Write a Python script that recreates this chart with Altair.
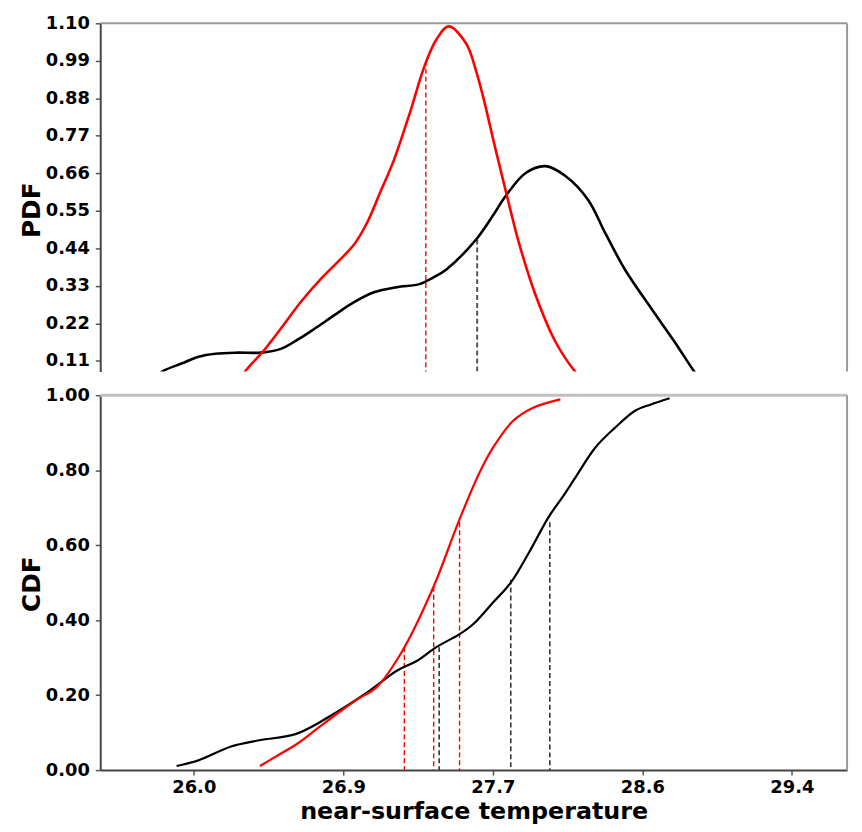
import altair as alt
import pandas as pd

# ---------------- data ----------------
# PDF, black curve
pdf_black_x = [25.716, 25.818, 25.930, 26.026, 26.122, 26.252, 26.381, 26.494, 26.590, 26.686,
               26.799, 26.911, 27.024, 27.154, 27.284, 27.363, 27.436, 27.605, 27.699, 27.774,
               27.887, 28.000, 28.113, 28.242, 28.338, 28.451, 28.603, 28.733, 28.846, 28.930]
pdf_black_y = [0.035, 0.078, 0.102, 0.122, 0.131, 0.134, 0.134, 0.145, 0.172, 0.204,
               0.244, 0.282, 0.311, 0.326, 0.335, 0.355, 0.378, 0.466, 0.535, 0.594,
               0.661, 0.681, 0.652, 0.582, 0.486, 0.378, 0.262, 0.166, 0.078, 0.020]
# PDF, red curve
pdf_red_x = [26.252, 26.291, 26.393, 26.494, 26.607, 26.720, 26.816, 26.911, 26.985, 27.058,
             27.137, 27.227, 27.312, 27.380, 27.447, 27.549, 27.605, 27.645, 27.718, 27.786,
             27.848, 27.943, 28.056, 28.169, 28.254]
pdf_red_y = [0.035, 0.078, 0.137, 0.204, 0.282, 0.349, 0.399, 0.451, 0.515, 0.602,
             0.698, 0.835, 0.975, 1.053, 1.091, 1.040, 0.960, 0.884, 0.725, 0.582,
             0.457, 0.303, 0.166, 0.078, 0.035]
# PDF dashed markers (red mean, black mean)
pdf_red_mark_x = [27.319]
pdf_red_mark_y = [0.99]
pdf_black_mark_x = [27.611]
pdf_black_mark_y = [0.466]

# CDF, red curve
cdf_red_x = [26.376, 26.477, 26.590, 26.703, 26.816, 26.928, 27.041, 27.182, 27.363, 27.504,
             27.622, 27.701, 27.814, 27.926, 28.084]
cdf_red_y = [0.011, 0.039, 0.071, 0.111, 0.151, 0.188, 0.222, 0.315, 0.489, 0.661,
             0.791, 0.860, 0.931, 0.966, 0.989]
# CDF, black curve
cdf_black_x = [25.902, 26.026, 26.212, 26.365, 26.590, 26.816, 27.000, 27.154, 27.267, 27.379,
               27.509, 27.588, 27.701, 27.802, 27.904, 28.017, 28.096, 28.169, 28.282, 28.394,
               28.507, 28.603, 28.705]
cdf_black_y = [0.011, 0.026, 0.063, 0.079, 0.098, 0.156, 0.212, 0.265, 0.291, 0.328,
               0.362, 0.389, 0.447, 0.500, 0.579, 0.675, 0.728, 0.780, 0.860, 0.913,
               0.958, 0.976, 0.992]
# CDF dashed markers (lower tercile, median, upper tercile)
cdf_red_mark_x = [27.197, 27.364, 27.511]
cdf_red_mark_y = [0.328, 0.489, 0.661]
cdf_black_mark_x = [27.395, 27.802, 28.024]
cdf_black_mark_y = [0.328, 0.508, 0.661]

x_ticks = [26.0, 26.85, 27.7, 28.55, 29.4]
pdf_ticks = [0.11, 0.22, 0.33, 0.44, 0.55, 0.66, 0.77, 0.88, 0.99, 1.10]
cdf_ticks = [0.0, 0.2, 0.4, 0.6, 0.8, 1.0]

X_DOMAIN = [25.468, 29.714]
PDF_DOMAIN = [0.079, 1.10]
W = 753
H_TOP = 351
H_BOT = 378

FONT = "DejaVu Sans"

x_scale = alt.Scale(domain=X_DOMAIN, nice=False, zero=False)
pdf_scale = alt.Scale(domain=PDF_DOMAIN, nice=False, zero=False)
cdf_scale = alt.Scale(domain=[0, 1], nice=False)

axis_common = dict(grid=False, labelFont=FONT, labelFontWeight="bold", labelFontSize=18,
                   labelColor="#000", labelOverlap=False, titleFont=FONT, titleFontWeight="bold",
                   titleColor="#000", tickColor="#555", tickSize=5, tickWidth=1.5,
                   domainColor="#444", domainWidth=2)

pdf_y_axis = alt.Axis(values=pdf_ticks, format=".2f", title="PDF", titleFontSize=25,
                      titleX=-56, titleY=188, labelPadding=6, **axis_common)
cdf_y_axis = alt.Axis(values=cdf_ticks, format=".2f", title="CDF", titleFontSize=25,
                      titleX=-56, titleY=190, labelPadding=6, **axis_common)
x_axis = alt.Axis(values=x_ticks, format=".1f", title="near-surface temperature",
                  titleFontSize=24, labelPadding=4, titlePadding=3, **axis_common)


def xenc(xaxis):
    if xaxis is None:
        return alt.X("x:Q", scale=x_scale, axis=None)
    return alt.X("x:Q", scale=x_scale, axis=xaxis)


def line(xs, ys, color, width, xaxis, yscale, yaxis, clip):
    df = pd.DataFrame({"x": xs, "y": ys})
    return alt.Chart(df).mark_line(clip=clip, color=color, strokeWidth=width,
                                   interpolate="catmull-rom").encode(
        x=xenc(xaxis),
        y=alt.Y("y:Q", scale=yscale, axis=yaxis),
    )


def rules(xs, ys, color, width, xaxis, yscale, yaxis, h):
    df = pd.DataFrame({"x": xs, "y": ys})
    return alt.Chart(df).mark_rule(color=color, strokeWidth=width, strokeDash=[5, 3]).encode(
        x=xenc(xaxis),
        y=alt.Y("y:Q", scale=yscale, axis=yaxis),
        y2=alt.value(h),
    )


anchor = pd.DataFrame({"a": [0]})


def hborder(x2, color, width):
    return alt.Chart(anchor).mark_rule(color=color, strokeWidth=width).encode(
        x=alt.value(0), x2=alt.value(x2), y=alt.value(0))


def vborder(x, y2, color, width):
    return alt.Chart(anchor).mark_rule(color=color, strokeWidth=width).encode(
        x=alt.value(x), y=alt.value(0), y2=alt.value(y2))


# ---------------- top panel: PDF ----------------
top = alt.layer(
    rules(pdf_red_mark_x, pdf_red_mark_y, "#ff0000", 1.4, None, pdf_scale, pdf_y_axis, H_TOP),
    rules(pdf_black_mark_x, pdf_black_mark_y, "#555555", 2.0, None, pdf_scale, pdf_y_axis, H_TOP),
    line(pdf_black_x, pdf_black_y, "#000000", 2.6, None, pdf_scale, pdf_y_axis, True),
    line(pdf_red_x, pdf_red_y, "#ff0000", 2.6, None, pdf_scale, pdf_y_axis, True),
    hborder(W, "#999", 2),
    vborder(W, H_TOP, "#999", 2),
).properties(width=W, height=H_TOP)

# ---------------- bottom panel: CDF ----------------
bottom = alt.layer(
    rules(cdf_red_mark_x, cdf_red_mark_y, "#ff0000", 1.4, x_axis, cdf_scale, cdf_y_axis, H_BOT),
    rules(cdf_black_mark_x, cdf_black_mark_y, "#333333", 1.6, x_axis, cdf_scale, cdf_y_axis, H_BOT),
    line(cdf_black_x, cdf_black_y, "#000000", 2.2, x_axis, cdf_scale, cdf_y_axis, False),
    line(cdf_red_x, cdf_red_y, "#ff0000", 2.2, x_axis, cdf_scale, cdf_y_axis, False),
    hborder(W, "#c0c0c0", 3),
    vborder(W, H_BOT, "#999", 2),
).properties(width=W, height=H_BOT)

chart = alt.vconcat(top, bottom, spacing=24, bounds="flush").properties(
    padding={"left": 11, "top": 2, "right": 5, "bottom": 5}
).configure_view(stroke="transparent")

chart.save("out.html", embed_options={"renderer": "svg", "actions": False})
